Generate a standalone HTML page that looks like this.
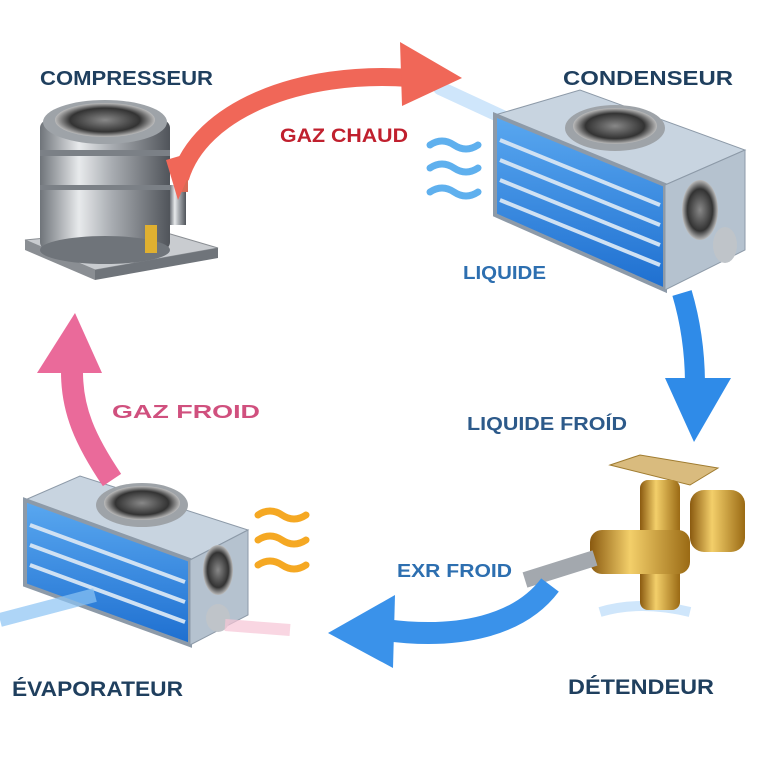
<!DOCTYPE html>
<html><head><meta charset="utf-8"><style>
html,body{margin:0;padding:0;background:#fff;}
svg{display:block;}
text{font-family:"Liberation Sans Narrow","Liberation Sans",sans-serif;font-weight:bold;}
</style></head><body>
<svg width="768" height="768" viewBox="0 0 768 768" xmlns="http://www.w3.org/2000/svg">
<defs>
<linearGradient id="steel" x1="0" x2="1" y1="0" y2="0">
<stop offset="0" stop-color="#6f747a"/><stop offset="0.3" stop-color="#e8eaec"/><stop offset="0.55" stop-color="#a9adb2"/><stop offset="1" stop-color="#50545a"/></linearGradient>
<linearGradient id="brass" x1="0" x2="1" y1="0" y2="0">
<stop offset="0" stop-color="#8a5a10"/><stop offset="0.4" stop-color="#f3cf6a"/><stop offset="1" stop-color="#9a6a14"/></linearGradient>
<linearGradient id="fins" x1="0" x2="0" y1="0" y2="1">
<stop offset="0" stop-color="#5aa8f0"/><stop offset="1" stop-color="#1e6fd0"/></linearGradient>
<radialGradient id="fan"><stop offset="0" stop-color="#888"/><stop offset="0.7" stop-color="#333"/><stop offset="1" stop-color="#bbb"/></radialGradient>
</defs>
<rect width="768" height="768" fill="#fff"/>

<!-- mist -->
<path d="M440 88 L520 125" stroke="#cfe6fb" stroke-width="14" stroke-linecap="round"/>
<path d="M600 612 Q640 600 690 612" stroke="#cfe6fb" stroke-width="10" fill="none"/>

<!-- Compressor -->
<path d="M25 240 L150 228 L218 248 L95 270 Z" fill="#c9ccd0" stroke="#8a8e93"/>
<path d="M25 240 L95 270 L95 280 L25 250 Z" fill="#8a8e93"/>
<path d="M95 270 L218 248 L218 258 L95 280 Z" fill="#6f747a"/>
<rect x="40" y="120" width="130" height="130" rx="8" fill="url(#steel)"/>
<ellipse cx="105" cy="250" rx="65" ry="14" fill="#6f747a"/>
<rect x="40" y="150" width="130" height="6" fill="#7b8086"/>
<rect x="40" y="185" width="130" height="5" fill="#7b8086"/>
<ellipse cx="105" cy="122" rx="62" ry="22" fill="#9ea3a8"/>
<ellipse cx="105" cy="120" rx="50" ry="17" fill="url(#fan)"/>
<rect x="170" y="185" width="16" height="40" fill="url(#steel)"/>
<rect x="178" y="172" width="10" height="20" fill="#d86a55"/>
<rect x="145" y="225" width="12" height="28" fill="#e0b030"/>

<!-- Red arrow -->
<path d="M180 178 C200 110 300 70 410 78" stroke="#f06758" stroke-width="18" fill="none"/>
<path d="M400 42 L462 78 L402 106 Z" fill="#f06758"/>
<path d="M166 160 L200 150 L178 200 Z" fill="#f06758"/>

<!-- Condenser -->
<path d="M495 115 L580 90 L745 150 L665 185 Z" fill="#c8d4e0" stroke="#8d9aa8"/>
<path d="M495 115 L665 185 L665 290 L495 215 Z" fill="url(#fins)" stroke="#8d9aa8" stroke-width="4"/>
<g stroke="#cfe1f3" stroke-width="4">
<line x1="500" y1="140" x2="660" y2="205"/><line x1="500" y1="160" x2="660" y2="225"/><line x1="500" y1="180" x2="660" y2="245"/><line x1="500" y1="200" x2="660" y2="265"/></g>
<path d="M665 185 L745 150 L745 250 L665 290 Z" fill="#b5c2cf" stroke="#8d9aa8"/>
<ellipse cx="700" cy="210" rx="18" ry="30" fill="url(#fan)"/>
<ellipse cx="725" cy="245" rx="12" ry="18" fill="#bfc4c9"/>
<ellipse cx="615" cy="128" rx="50" ry="23" fill="#9ea3a8"/>
<ellipse cx="615" cy="126" rx="42" ry="18" fill="url(#fan)"/>
<g stroke="#5fb0ee" stroke-width="7" fill="none" stroke-linecap="round">
<path d="M430 145 q12 -8 24 0 t24 0"/><path d="M430 168 q12 -8 24 0 t24 0"/><path d="M430 192 q12 -8 24 0 t24 0"/></g>

<!-- Blue down arrow -->
<path d="M682 293 C690 320 695 350 695 385" stroke="#2f8be8" stroke-width="20" fill="none"/>
<path d="M665 378 L731 378 L694 442 Z" fill="#2f8be8"/>

<!-- Valve -->
<path d="M610 465 L640 455 L718 468 L690 485 Z" fill="#d9bb7e" stroke="#a07c30"/>
<rect x="640" y="480" width="40" height="130" rx="8" fill="url(#brass)"/>
<rect x="590" y="530" width="100" height="44" rx="12" fill="url(#brass)"/>
<rect x="690" y="490" width="55" height="62" rx="14" fill="url(#brass)"/>
<path d="M525 580 L595 558" stroke="#a3a8ae" stroke-width="16"/>

<!-- Blue left arrow -->
<path d="M550 585 C520 625 460 640 385 630" stroke="#3a92ea" stroke-width="22" fill="none"/>
<path d="M395 595 L328 633 L393 668 Z" fill="#3a92ea"/>

<!-- Evaporator -->
<path d="M25 500 L80 476 L248 530 L190 560 Z" fill="#c8d4e0" stroke="#8d9aa8"/>
<path d="M25 500 L190 560 L190 645 L25 585 Z" fill="url(#fins)" stroke="#8d9aa8" stroke-width="4"/>
<g stroke="#cfe1f3" stroke-width="4">
<line x1="30" y1="525" x2="185" y2="582"/><line x1="30" y1="545" x2="185" y2="602"/><line x1="30" y1="565" x2="185" y2="622"/></g>
<path d="M190 560 L248 530 L248 615 L190 645 Z" fill="#b5c2cf" stroke="#8d9aa8"/>
<ellipse cx="218" cy="570" rx="15" ry="25" fill="url(#fan)"/>
<ellipse cx="218" cy="618" rx="12" ry="14" fill="#bfc4c9"/>
<ellipse cx="142" cy="505" rx="46" ry="22" fill="#9ea3a8"/>
<ellipse cx="142" cy="503" rx="38" ry="17" fill="url(#fan)"/>
<g stroke="#f5a823" stroke-width="7" fill="none" stroke-linecap="round">
<path d="M258 515 q12 -8 24 0 t24 0"/><path d="M258 540 q12 -8 24 0 t24 0"/><path d="M258 565 q12 -8 24 0 t24 0"/></g>
<path d="M0 620 L95 595" stroke="#8cc4f4" stroke-width="14" opacity="0.7"/>
<path d="M225 625 L290 630" stroke="#f7c6d6" stroke-width="12" opacity="0.7"/>

<!-- Pink arrow -->
<path d="M112 480 C85 440 72 410 72 372" stroke="#ea6a9a" stroke-width="22" fill="none"/>
<path d="M37 373 L75 313 L102 373 Z" fill="#ea6a9a"/>

<!-- Labels -->
<text x="40" y="85" font-size="20" fill="#1f3f5e" textLength="173" lengthAdjust="spacingAndGlyphs">COMPRESSEUR</text>
<text x="563" y="85" font-size="20" fill="#1f3f5e" textLength="170" lengthAdjust="spacingAndGlyphs">CONDENSEUR</text>
<text x="280" y="142" font-size="19" fill="#c0202e" textLength="128" lengthAdjust="spacingAndGlyphs">GAZ CHAUD</text>
<text x="463" y="279" font-size="18" fill="#2d6fb0" textLength="83" lengthAdjust="spacingAndGlyphs">LIQUIDE</text>
<text x="467" y="430" font-size="18" fill="#2d5a8a" textLength="160" lengthAdjust="spacingAndGlyphs">LIQUIDE FROÍD</text>
<text x="112" y="418" font-size="18" fill="#d0507e" textLength="148" lengthAdjust="spacingAndGlyphs">GAZ FROID</text>
<text x="397" y="577" font-size="18" fill="#2d6fb0" textLength="115" lengthAdjust="spacingAndGlyphs">EXR FROID</text>
<text x="12" y="696" font-size="21" fill="#1f3f5e" textLength="171" lengthAdjust="spacingAndGlyphs">ÉVAPORATEUR</text>
<text x="568" y="694" font-size="21" fill="#1f3f5e" textLength="146" lengthAdjust="spacingAndGlyphs">DÉTENDEUR</text>
</svg>
</body></html>
